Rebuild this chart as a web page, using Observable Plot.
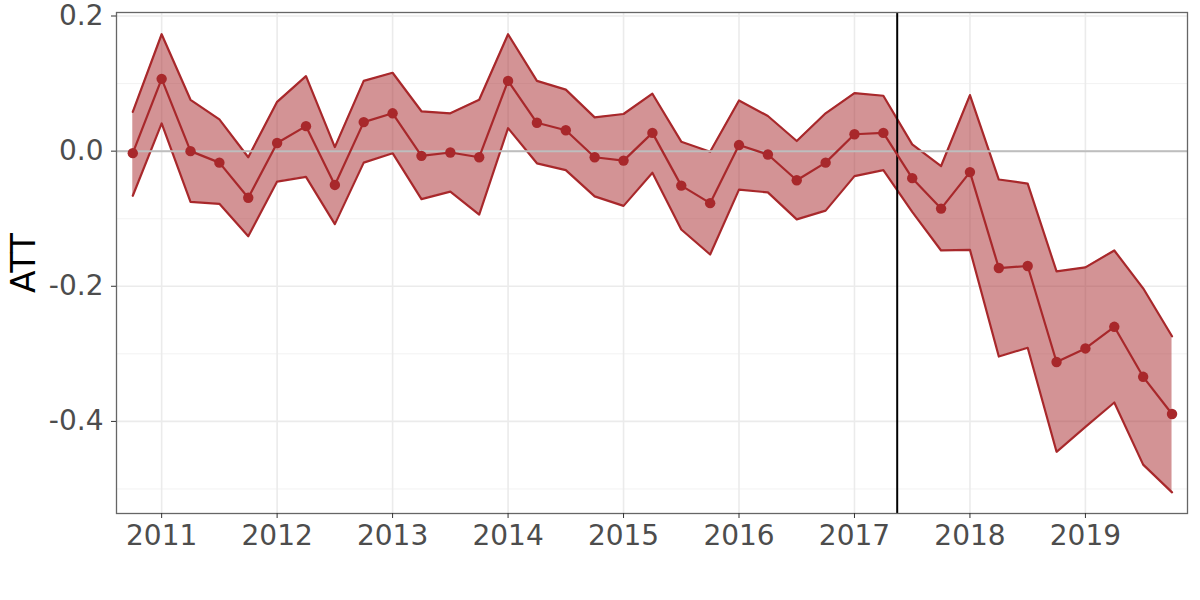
<!DOCTYPE html>
<html><head><meta charset="utf-8">
<script src="https://cdn.jsdelivr.net/npm/d3@7"></script>
<script src="https://cdn.jsdelivr.net/npm/@observablehq/plot@0.6"></script>
<style>body{margin:0;background:#fff;}</style>
</head><body><div id="chart"></div>
<script>
const time = [2010.75, 2011, 2011.25, 2011.5, 2011.75, 2012, 2012.25, 2012.5, 2012.75, 2013,
  2013.25, 2013.5, 2013.75, 2014, 2014.25, 2014.5, 2014.75, 2015, 2015.25, 2015.5,
  2015.75, 2016, 2016.25, 2016.5, 2016.75, 2017, 2017.25, 2017.5, 2017.75, 2018,
  2018.25, 2018.5, 2018.75, 2019, 2019.25, 2019.5, 2019.75];
const att = [-0.003, 0.107, 0.000, -0.017, -0.069, 0.012, 0.037, -0.050, 0.043, 0.056,
  -0.007, -0.002, -0.009, 0.104, 0.042, 0.031, -0.009, -0.014, 0.027, -0.051,
  -0.077, 0.009, -0.005, -0.043, -0.017, 0.025, 0.027, -0.040, -0.085, -0.031,
  -0.173, -0.170, -0.312, -0.292, -0.260, -0.334, -0.389];
const upper = [0.058, 0.173, 0.076, 0.047, -0.009, 0.073, 0.111, 0.006, 0.104, 0.116,
  0.059, 0.056, 0.076, 0.173, 0.104, 0.091, 0.050, 0.055, 0.085, 0.014,
  -0.001, 0.075, 0.052, 0.015, 0.056, 0.086, 0.082, 0.010, -0.022, 0.083,
  -0.042, -0.048, -0.178, -0.172, -0.147, -0.203, -0.274];
const lower = [-0.066, 0.041, -0.075, -0.078, -0.126, -0.045, -0.038, -0.108, -0.017, -0.003,
  -0.071, -0.060, -0.094, 0.034, -0.018, -0.028, -0.067, -0.081, -0.032, -0.116,
  -0.153, -0.057, -0.061, -0.101, -0.088, -0.037, -0.028, -0.090, -0.147, -0.146,
  -0.304, -0.291, -0.445, -0.408, -0.372, -0.464, -0.505];
const xTicks = [2011, 2012, 2013, 2014, 2015, 2016, 2017, 2018, 2019];
const yTicks = [0.2, 0.0, -0.2, -0.4];
const yMinor = [0.1, -0.1, -0.3, -0.5];
const treatTime = 2017.37;
const yLabel = "ATT";

const data = time.map((t, i) => ({t, att: att[i], lo: lower[i], hi: upper[i]}));
const red = "#A8282B";

const chart = Plot.plot({
  width: 1200, height: 600,
  marginLeft: 116, marginRight: 13, marginTop: 12, marginBottom: 87,
  style: {fontFamily: "DejaVu Sans", background: "#fff", overflow: "visible"},
  x: {domain: [2010.609, 2019.884]},
  y: {domain: [-0.5363, 0.2052]},
  marks: [
    Plot.ruleY(yMinor, {stroke: "#EFEFEF", strokeWidth: 0.8}),
    Plot.ruleY(yTicks, {stroke: "#EBEBEB", strokeWidth: 1.6}),
    Plot.ruleX(xTicks, {stroke: "#EBEBEB", strokeWidth: 1.6}),
    Plot.areaY(data, {x: "t", y1: "lo", y2: "hi", fill: red, fillOpacity: 0.5}),
    Plot.lineY(data, {x: "t", y: "hi", stroke: red, strokeWidth: 2.2}),
    Plot.lineY(data, {x: "t", y: "lo", stroke: red, strokeWidth: 2.2}),
    Plot.ruleY([0], {stroke: "#BEBEBE", strokeWidth: 2}),
    Plot.ruleX([treatTime], {stroke: "#000", strokeWidth: 2}),
    Plot.lineY(data, {x: "t", y: "att", stroke: red, strokeWidth: 2.2}),
    Plot.dot(data, {x: "t", y: "att", r: 5.2, fill: red, stroke: "none"}),
    Plot.frame({stroke: "#666", strokeWidth: 1.3}),
    Plot.axisX(xTicks, {tickSize: 5, tickPadding: 7, fontSize: 28, tickFormat: d => String(d),
      stroke: "#333", fill: "#4D4D4D", label: null}),
    Plot.axisY(yTicks, {tickSize: 5, tickPadding: 8, fontSize: 28, tickFormat: d => d.toFixed(1),
      stroke: "#333", fill: "#4D4D4D", label: null}),
    Plot.text([yLabel], {text: d => d, frameAnchor: "left", dx: -92, rotate: -90,
      textAnchor: "middle", lineAnchor: "middle", fontSize: 33, fill: "#000"})
  ]
});
document.getElementById("chart").appendChild(chart);
</script>
</body></html>
